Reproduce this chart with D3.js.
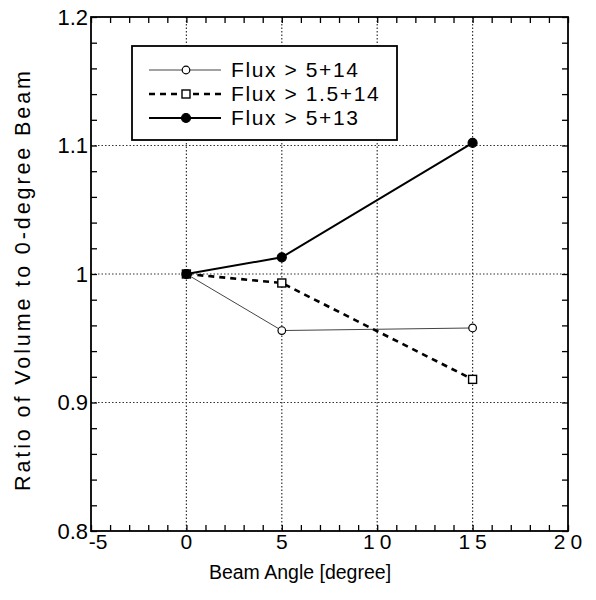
<!DOCTYPE html>
<meta charset="utf-8">
<head>
<script src="https://d3js.org/d3.v7.min.js"></script>
<style>
  body { margin: 0; background: #fff; }
  text { font-family: "Liberation Sans", Arial, sans-serif; fill: #000; }
</style>
</head>
<body>
<div id="my_dataviz"></div>
<script>

// data
var angles = [0, 5, 15];
var flux5e14 = [1.0, 0.956, 0.958];
var flux15e14 = [1.0, 0.993, 0.918];
var flux5e13 = [1.0, 1.013, 1.102];
var seriesNames = ["Flux > 5+14", "Flux > 1.5+14", "Flux > 5+13"];
var xTicks = [-5, 0, 5, 10, 15, 20];
var yTicks = [0.8, 0.9, 1, 1.1, 1.2];
var xGrid = [0, 5, 10, 15];
var yGrid = [0.9, 1, 1.1];

var margin = {top: 17, right: 28, bottom: 69, left: 91},
    width = 596 - margin.left - margin.right,
    height = 600 - margin.top - margin.bottom;

var svg = d3.select("#my_dataviz")
  .append("svg")
    .attr("width", 596)
    .attr("height", 600)
  .append("g")
    .attr("transform", "translate(" + margin.left + "," + margin.top + ")");

var x = d3.scaleLinear().domain([-5, 20]).range([0, width]);
var y = d3.scaleLinear().domain([0.8, 1.2]).range([height, 0]);

// dotted grid
svg.append("g").selectAll("line.gx")
  .data(xGrid).enter().append("line")
    .attr("x1", function(d) { return x(d); })
    .attr("x2", function(d) { return x(d); })
    .attr("y1", 0).attr("y2", height)
    .style("stroke", "#333").style("stroke-width", 1.2)
    .style("stroke-dasharray", "1.5,2");
svg.append("g").selectAll("line.gy")
  .data(yGrid).enter().append("line")
    .attr("y1", function(d) { return y(d); })
    .attr("y2", function(d) { return y(d); })
    .attr("x1", 0).attr("x2", width)
    .style("stroke", "#333").style("stroke-width", 1.2)
    .style("stroke-dasharray", "1.5,2");

// inward ticks on all four sides
var xMinor = d3.range(-5, 20.01, 1);
var yMinor = d3.range(0.8, 1.2001, 0.02);
function tickG(axis, tr) {
  var g = svg.append("g").attr("transform", tr).call(axis);
  g.select(".domain").remove();
  g.selectAll("line").style("stroke", "#000").style("stroke-width", 1.3);
  return g;
}
tickG(d3.axisTop(x).tickValues(xMinor).tickSize(6).tickFormat(""), "translate(0," + height + ")");
tickG(d3.axisBottom(x).tickValues(xMinor).tickSize(6).tickFormat(""), "translate(0,0)");
tickG(d3.axisRight(y).tickValues(yMinor).tickSize(6).tickFormat(""), "translate(0,0)");
tickG(d3.axisLeft(y).tickValues(yMinor).tickSize(6).tickFormat(""), "translate(" + width + ",0)");

// frame
svg.append("rect")
  .attr("width", width).attr("height", height)
  .style("fill", "none").style("stroke", "#000").style("stroke-width", 1.8);

// tick labels
svg.append("g").selectAll("text")
  .data(xTicks).enter().append("text")
    .attr("x", function(d) { return x(d) + (d >= 10 ? 2.5 : (d < 0 ? 7 : 0)); })
    .attr("y", height + 18)
    .attr("text-anchor", "middle")
    .style("font-size", "21px")
    .style("letter-spacing", function(d) { return d >= 10 ? "5px" : "0px"; })
    .text(function(d) { return d; });
svg.append("g").selectAll("text")
  .data(yTicks).enter().append("text")
    .attr("x", -3)
    .attr("y", function(d) { return y(d); })
    .attr("dy", "0.36em")
    .attr("text-anchor", "end")
    .style("font-size", "22px")
    .text(function(d) { return d3.format("")(d); });

// axis titles
svg.append("text")
  .attr("x", 209)
  .attr("y", height + 48)
  .attr("text-anchor", "middle")
  .style("font-size", "19.5px")
  .text("Beam Angle [degree]");
svg.append("text")
  .attr("transform", "translate(-61," + (281 - margin.top) + ")rotate(-90)")
  .attr("text-anchor", "middle")
  .attr("textLength", 420)
  .attr("lengthAdjust", "spacing")
  .style("font-size", "21.5px")
  .text("Ratio of Volume to 0-degree Beam");

// series
var series = [
  {name: seriesNames[0], values: flux5e14, width: 1, dash: null, marker: "circle", fill: "#fff", color: "#444"},
  {name: seriesNames[1], values: flux15e14, width: 2.6, dash: "6,5", marker: "square", fill: "#fff", color: "#000"},
  {name: seriesNames[2], values: flux5e13, width: 2, dash: null, marker: "circle", fill: "#000", color: "#000"}
];

var line = d3.line()
  .x(function(d, i) { return x(angles[i]); })
  .y(function(d) { return y(d); });

function drawMarker(g, s, cx, cy) {
  if (s.marker === "square") {
    g.append("rect")
      .attr("x", cx - 4).attr("y", cy - 4)
      .attr("width", 8).attr("height", 8)
      .style("fill", s.fill).style("stroke", "#000").style("stroke-width", 1.4);
  } else {
    g.append("circle")
      .attr("cx", cx).attr("cy", cy)
      .attr("r", s.fill === "#000" ? 4.5 : 3.8)
      .style("fill", s.fill).style("stroke", "#000").style("stroke-width", 1.2);
  }
}

series.forEach(function(s) {
  svg.append("path")
    .datum(s.values)
    .attr("d", line)
    .style("fill", "none")
    .style("stroke", s.color)
    .style("stroke-width", s.width)
    .style("stroke-dasharray", s.dash);
});
series.forEach(function(s) {
  var g = svg.append("g");
  s.values.forEach(function(v, i) { drawMarker(g, s, x(angles[i]), y(v)); });
});

// legend
var legend = svg.append("g").attr("transform", "translate(" + (132 - margin.left) + "," + (46 - margin.top) + ")");
legend.append("rect")
  .attr("width", 265).attr("height", 94)
  .style("fill", "#fff").style("stroke", "#000").style("stroke-width", 1.8);
series.forEach(function(s, i) {
  var cy = 24 + i * 24;
  legend.append("line")
    .attr("x1", 17).attr("x2", 89)
    .attr("y1", cy).attr("y2", cy)
    .style("stroke", s.color)
    .style("stroke-width", s.width)
    .style("stroke-dasharray", s.dash);
  drawMarker(legend, s, 54, cy);
  legend.append("text")
    .attr("x", 99)
    .attr("y", cy + 7)
    .style("font-size", "21px")
    .style("letter-spacing", "1.6px")
    .text(s.name);
});

</script>
</body>
</html>
